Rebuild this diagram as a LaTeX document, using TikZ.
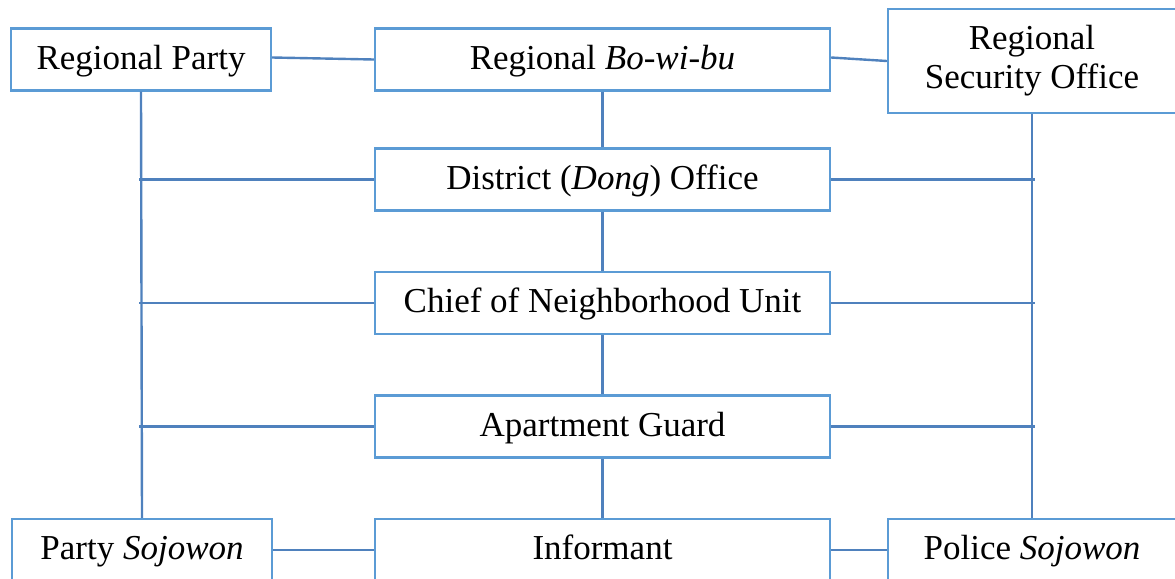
\documentclass[tikz,border=0pt]{standalone}
\usepackage{fontspec}
\setmainfont{Liberation Serif}
\definecolor{boxblue}{RGB}{91,155,213}
\definecolor{lineblue}{RGB}{79,129,189}
\begin{document}
\begin{tikzpicture}[x=0.5pt,y=-0.5pt]
% Styles
\tikzset{unit/.style={draw=boxblue,line width=1.2pt,fill=white,minimum height=31pt,inner sep=0pt,
    font=\fontsize{17.5}{19.5}\selectfont},
  oneline/.style={unit,text height=13.5pt,text depth=4pt},
  side/.style={oneline,minimum width=130pt},
  mid/.style={oneline,minimum width=227.5pt},
  link/.style={draw=lineblue,line width=1.2pt}}
\useasboundingbox (0,0) rectangle (1175,579);
\clip (0,0) rectangle (1175,579);
% Top row
\node[side] (rparty) at (141,59.5) {Regional Party};
\node[mid] (rbwb) at (602.5,59.5) {Regional \textit{Bo-wi-bu}};
\node[unit,minimum width=144pt,minimum height=52pt,align=center] (rso) at (1032,61) {Regional\\Security Office};
% the middle units
\foreach \nm/\yy/\txt in {dong/179.5/{District (\textit{Dong}) Office},
    chief/303/{Chief of Neighborhood Unit},
    guard/426.5/{Apartment Guard}} {
  \node[mid] (\nm) at (602.5,\yy) {\txt};
}
% Bottom row
\node[side] (pso) at (142,550) {Party \textit{Sojowon}};
\node[mid] (inf) at (602.5,550) {Informant};
\node[oneline,minimum width=144pt] (polso) at (1032,550) {Police \textit{Sojowon}};
% Links -- top and bottom rows
\draw[link] ([yshift=1pt]rparty.east) -- (rbwb.west);
\draw[link] ([yshift=1pt]rbwb.east) -- (rso.west);
\draw[link] (pso) -- (inf);
\draw[link] (inf) -- (polso);
% the side columns
\draw[link] (rparty.south) -- (pso.north);
\draw[link] (rso.south) -- (polso.north);
% the centre column
\foreach \a/\b in {rbwb/dong, dong/chief, chief/guard, guard/inf} {
  \draw[link] (\a) -- (\b);
}
% Links -- columns to middle units
\foreach \nm/\yy in {dong/179.5, chief/303, guard/426.5} {
  \coordinate (L\nm) at (139,\yy);
  \coordinate (R\nm) at (1035,\yy);
  \draw[link] (L\nm) -- (\nm.west);
  \draw[link] (\nm.east) -- (R\nm);
}
\end{tikzpicture}
\end{document}
